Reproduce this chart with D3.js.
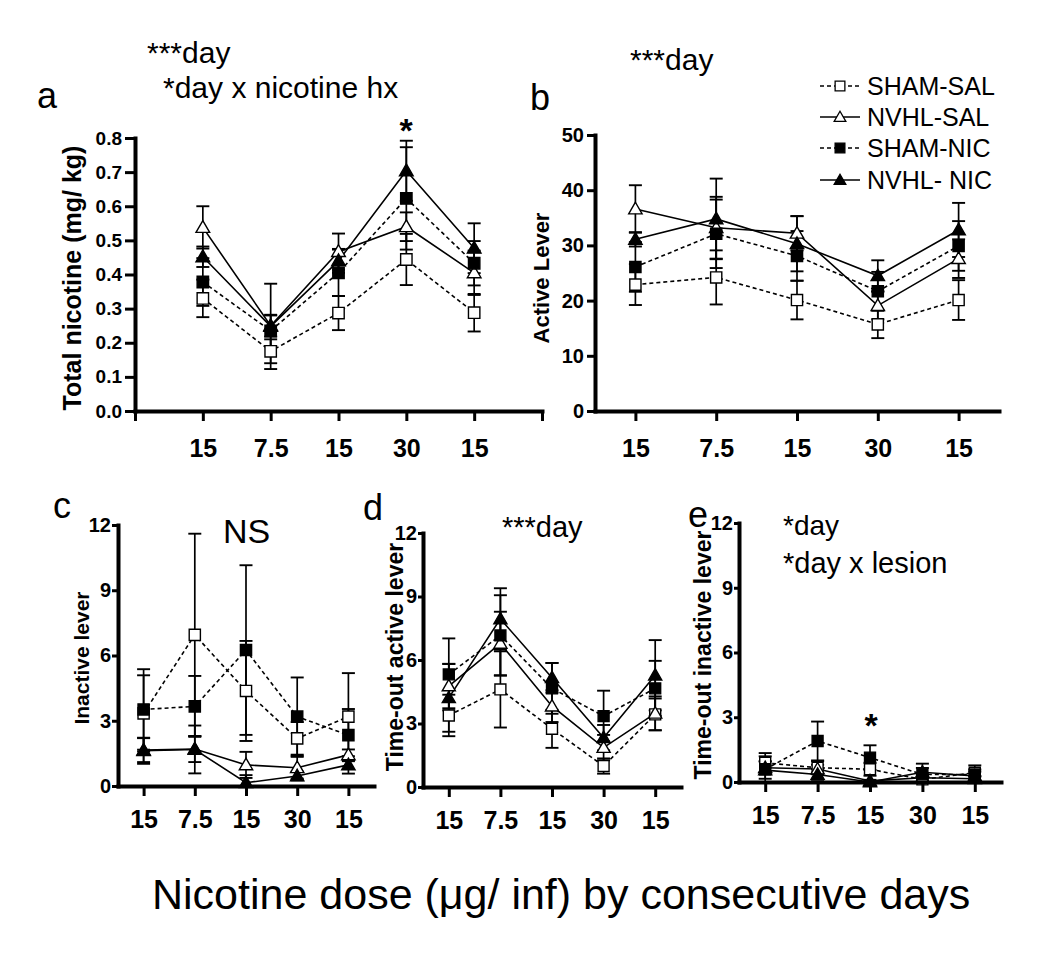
<!DOCTYPE html>
<html>
<head>
<meta charset="utf-8">
<script src="https://cdn.jsdelivr.net/npm/d3@7"></script>
<style>
  html, body { margin: 0; padding: 0; background: #fff; }
  svg { display: block; font-family: "Liberation Sans", Arial, sans-serif; }
</style>
</head>
<body>
<svg id="chart" width="1050" height="954"></svg>
<script>
// ---------------- DATA ----------------
const days = [1, 2, 3, 4, 5];
const doseLabels = ["15", "7.5", "15", "30", "15"];
const groups = ["SHAM-SAL", "NVHL-SAL", "SHAM-NIC", "NVHL-NIC"];
const legendLabels = ["SHAM-SAL", "NVHL-SAL", "SHAM-NIC", "NVHL- NIC"];

// order of rows: SHAM-SAL, NVHL-SAL, SHAM-NIC, NVHL-NIC
const totalNicotineMean = [
  [0.330, 0.175, 0.287, 0.444, 0.288],
  [0.538, 0.250, 0.467, 0.540, 0.405],
  [0.378, 0.235, 0.405, 0.623, 0.433],
  [0.452, 0.248, 0.440, 0.704, 0.477]
];
const totalNicotineSem = [
  [0.055, 0.035, 0.050, 0.075, 0.055],
  [0.062, 0.032, 0.053, 0.042, 0.065],
  [0.070, 0.045, 0.068, 0.150, 0.065],
  [0.030, 0.125, 0.035, 0.088, 0.073]
];
const activeLeverMean = [
  [22.9, 24.2, 20.1, 15.7, 20.1],
  [36.6, 33.2, 32.2, 19.1, 27.6],
  [26.1, 32.1, 28.1, 21.7, 29.9],
  [31.1, 34.8, 30.3, 24.5, 32.8]
];
const activeLeverSem = [
  [3.7, 4.9, 3.5, 2.5, 3.6],
  [4.3, 5.6, 3.1, 2.5, 3.5],
  [4.5, 6.2, 4.5, 3.5, 4.5],
  [1.3, 7.3, 5.0, 2.8, 4.9]
];
const inactiveLeverMean = [
  [3.34, 6.95, 4.37, 2.19, 3.19],
  [1.65, 1.70, 0.97, 0.84, 1.43],
  [3.52, 3.66, 6.25, 3.19, 2.34],
  [1.62, 1.68, 0.15, 0.46, 0.97]
];
const inactiveLeverSem = [
  [1.75, 4.65, 2.30, 0.75, 2.00],
  [0.55, 0.60, 0.60, 0.50, 0.25],
  [1.85, 1.40, 3.90, 1.80, 1.20],
  [0.60, 1.10, 0.35, 0.20, 0.40]
];
const timeoutActiveMean = [
  [3.38, 4.61, 2.75, 0.99, 3.43],
  [4.77, 6.78, 3.82, 1.86, 3.48],
  [5.32, 7.16, 4.66, 3.35, 4.66],
  [4.21, 7.94, 5.16, 2.33, 5.28]
];
const timeoutActiveSem = [
  [0.98, 1.80, 0.90, 0.36, 0.75],
  [1.05, 1.50, 0.75, 0.60, 0.80],
  [1.70, 1.90, 1.20, 1.20, 1.30],
  [1.60, 1.45, 0.70, 0.60, 1.66]
];
const timeoutInactiveMean = [
  [0.89, 0.66, 0.59, 0.12, 0.43],
  [0.66, 0.60, 0.05, 0.20, 0.15],
  [0.59, 1.90, 1.13, 0.35, 0.35],
  [0.55, 0.35, 0.00, 0.45, 0.28]
];
const timeoutInactiveSem = [
  [0.45, 0.30, 0.30, 0.10, 0.15],
  [0.30, 0.20, 0.05, 0.15, 0.10],
  [0.60, 0.90, 0.57, 0.50, 0.42],
  [0.40, 0.25, 0.05, 0.20, 0.20]
];

const yTicksA = [0, 0.1, 0.2, 0.3, 0.4, 0.5, 0.6, 0.7, 0.8];
const yTicksB = [0, 10, 20, 30, 40, 50];
const yTicksCDE = [0, 3, 6, 9, 12];

// ---------------- DRAWING ----------------
const svg = d3.select("#chart");
const FONT = '"Liberation Sans", Arial, sans-serif';

const styleOf = [
  { symbol: d3.symbolSquare, fill: "#fff", dash: "4,3" },
  { symbol: d3.symbolTriangle, fill: "#fff", dash: null },
  { symbol: d3.symbolSquare, fill: "#000", dash: "4,3" },
  { symbol: d3.symbolTriangle, fill: "#000", dash: null }
];

function symSize(st, base) {
  return st.symbol === d3.symbolSquare ? base : base * 0.62;
}

function drawPanel(p) {
  const x = d3.scaleLinear().domain(p.xDomain).range(p.xRange);
  const y = d3.scaleLinear().domain(p.yDomain).range(p.yRange);
  const g = svg.append("g");

  // series lines and error bars
  p.mean.forEach((row, si) => {
    const st = styleOf[si];
    const sg = g.append("g");
    const line = d3.line().x((d, i) => x(days[i])).y(d => y(d));
    sg.append("path").datum(row)
      .attr("d", line)
      .attr("fill", "none")
      .attr("stroke", "#000")
      .attr("stroke-width", 1.6)
      .attr("stroke-dasharray", st.dash);
    row.forEach((m, i) => {
      const s = p.sem[si][i];
      const cx = x(days[i]);
      const y1 = y(Math.max(p.yDomain[0], m - s)), y2 = y(m + s);
      sg.append("line").attr("x1", cx).attr("x2", cx).attr("y1", y1).attr("y2", y2)
        .attr("stroke", "#000").attr("stroke-width", 1.7);
      [m + s, m - s].forEach(v => {
        if (v < p.yDomain[0]) return;
        sg.append("line").attr("x1", cx - p.cap / 2).attr("x2", cx + p.cap / 2)
          .attr("y1", y(v)).attr("y2", y(v))
          .attr("stroke", "#000").attr("stroke-width", 1.9);
      });
    });
  });
  // markers on top
  p.mean.forEach((row, si) => {
    const st = styleOf[si];
    const sym = d3.symbol().type(st.symbol).size(symSize(st, p.msize));
    g.append("g").selectAll("path").data(row).join("path")
      .attr("d", sym)
      .attr("transform", (d, i) => `translate(${x(days[i])},${y(d) + (st.symbol === d3.symbolTriangle ? 1 : 0)})`)
      .attr("fill", st.fill)
      .attr("stroke", "#000")
      .attr("stroke-width", 1.4);
  });

  // y axis
  const ya = g.append("g").attr("transform", `translate(${p.xRange[0]},0)`)
    .call(d3.axisLeft(y).tickValues(p.yTicks).tickFormat(p.yFormat)
      .tickSize(p.yTickLen).tickSizeOuter(0).tickPadding(p.yPad));
  ya.select(".domain").attr("stroke-width", 4).attr("stroke-linecap", "square");
  ya.selectAll(".tick line").attr("stroke-width", 3);
  ya.selectAll(".tick text").attr("font-family", FONT).attr("font-weight", "bold")
    .attr("font-size", p.yFont).attr("fill", "#000");

  // x axis
  const xa = g.append("g").attr("transform", `translate(0,${p.yRange[0]})`)
    .call(d3.axisBottom(x).tickValues(p.xTicks)
      .tickFormat(v => (v >= 1 && v <= 5) ? doseLabels[v - 1] : "")
      .tickSize(10).tickSizeOuter(0).tickPadding(p.xPad));
  xa.select(".domain").attr("stroke-width", 4).attr("stroke-linecap", "square");
  xa.selectAll(".tick line").attr("stroke-width", 3);
  xa.selectAll(".tick text").attr("font-family", FONT).attr("font-weight", "bold")
    .attr("font-size", p.xFont).attr("fill", "#000");

  // y label
  g.append("text")
    .attr("transform", `translate(${p.labelX},${p.labelY}) rotate(-90)`)
    .attr("text-anchor", "middle")
    .attr("font-family", FONT).attr("font-weight", "bold")
    .attr("font-size", p.labelFont)
    .text(p.label);
}

drawPanel({
  mean: totalNicotineMean, sem: totalNicotineSem,
  xDomain: [0, 6], xRange: [135, 542], xTicks: [0, 1, 2, 3, 4, 5, 6], xPad: 18, xFont: 25,
  yDomain: [0, 0.8], yRange: [411, 138], yTicks: yTicksA, yFormat: d3.format(".1f"), yFont: 19, yTickLen: 10, yPad: 3,
  cap: 13, msize: 130,
  label: "Total nicotine (mg/ kg)", labelX: 81, labelY: 278, labelFont: 25
});
drawPanel({
  mean: activeLeverMean, sem: activeLeverSem,
  xDomain: [0.5, 5.5], xRange: [595, 999], xTicks: days, xPad: 18, xFont: 25,
  yDomain: [0, 50], yRange: [411, 135], yTicks: yTicksB, yFormat: d3.format("d"), yFont: 20, yTickLen: 8, yPad: 3,
  cap: 13, msize: 125,
  label: "Active Lever", labelX: 549, labelY: 278, labelFont: 22
});
drawPanel({
  mean: inactiveLeverMean, sem: inactiveLeverSem,
  xDomain: [0.5, 5.5], xRange: [118, 374], xTicks: days, xPad: 14, xFont: 25,
  yDomain: [0, 12], yRange: [786, 525], yTicks: yTicksCDE, yFormat: d3.format("d"), yFont: 20, yTickLen: 6, yPad: 1,
  cap: 13, msize: 125,
  label: "Inactive lever", labelX: 89, labelY: 658, labelFont: 21
});
drawPanel({
  mean: timeoutActiveMean, sem: timeoutActiveSem,
  xDomain: [0.5, 5.5], xRange: [423, 681], xTicks: days, xPad: 14, xFont: 25,
  yDomain: [0, 12], yRange: [787, 533], yTicks: yTicksCDE, yFormat: d3.format("d"), yFont: 20, yTickLen: 5, yPad: 1,
  cap: 13, msize: 120,
  label: "Time-out active lever", labelX: 403, labelY: 657, labelFont: 23
});
drawPanel({
  mean: timeoutInactiveMean, sem: timeoutInactiveSem,
  xDomain: [0.5, 5.5], xRange: [739, 1001], xTicks: days, xPad: 14, xFont: 25,
  yDomain: [0, 12], yRange: [782, 523], yTicks: yTicksCDE, yFormat: d3.format("d"), yFont: 20, yTickLen: 5, yPad: 1,
  cap: 13, msize: 120,
  label: "Time-out inactive lever", labelX: 711, labelY: 655, labelFont: 23
});

// ---------------- ANNOTATIONS ----------------
function txt(x, y, s, size, opts = {}) {
  svg.append("text").attr("x", x).attr("y", y)
    .attr("font-family", FONT).attr("font-size", size)
    .attr("font-weight", opts.bold ? "bold" : "normal")
    .attr("text-anchor", opts.anchor || "start")
    .text(s);
}
txt(37, 108, "a", 36);
txt(147, 63, "***day", 30);
txt(163, 98, "*day x nicotine hx", 30);
txt(406, 142, "*", 34, { bold: true, anchor: "middle" });
txt(530, 110, "b", 36);
txt(630, 70, "***day", 30);
txt(53, 518, "c", 36);
txt(223, 543, "NS", 34);
txt(363, 520, "d", 36);
txt(502, 537, "***day", 29);
txt(688, 527, "e", 36);
txt(783, 535, "*day", 28);
txt(783, 573, "*day x lesion", 29);
txt(871, 737, "*", 34, { bold: true, anchor: "middle" });
txt(152, 909, "Nicotine dose (\u03BCg/ inf) by consecutive days", 43);

// ---------------- LEGEND ----------------
const legendRows = [86, 117, 148, 180];
legendLabels.forEach((lab, i) => {
  const st = styleOf[i];
  const lg = svg.append("g");
  lg.append("line").attr("x1", 820).attr("x2", 860).attr("y1", legendRows[i]).attr("y2", legendRows[i])
    .attr("stroke", "#000").attr("stroke-width", 1.5).attr("stroke-dasharray", st.dash);
  lg.append("path")
    .attr("d", d3.symbol().type(st.symbol).size(symSize(st, 95)))
    .attr("transform", `translate(840,${legendRows[i] + (st.symbol === d3.symbolTriangle ? 1 : 0)})`)
    .attr("fill", st.fill).attr("stroke", "#000").attr("stroke-width", 1.3);
  lg.append("text").attr("x", 867).attr("y", legendRows[i] + 9)
    .attr("font-family", FONT).attr("font-size", 25).text(lab);
});
</script>
</body>
</html>
